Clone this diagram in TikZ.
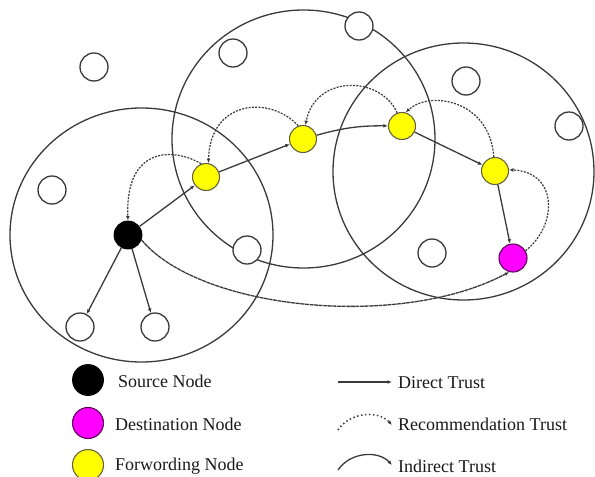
\documentclass[tikz,border=0pt]{standalone}
\usepackage{fontspec}
\setmainfont{Liberation Serif}
\usetikzlibrary{arrows.meta}
\definecolor{ln}{HTML}{3A3A3A}
\definecolor{yel}{HTML}{FFFF00}
\definecolor{mag}{HTML}{FF00FF}
\tikzset{
  ln/.style={draw=ln, line width=1.3pt},
  plain/.style={circle, draw=ln, line width=1.3pt, fill=white, minimum size=28pt, inner sep=0pt},
  srcnode/.style={circle, draw=black, line width=0.8pt, fill=black, minimum size=28pt, inner sep=0pt},
  fwd/.style={circle, draw=black!70!yellow, line width=1.1pt, fill=yel, minimum size=27pt, inner sep=0pt},
  dst/.style={circle, draw=black!65!mag, line width=1.1pt, fill=mag, minimum size=28pt, inner sep=0pt},
  tip/.style={-{Latex[length=4.5pt,width=3.8pt]}},
  direct/.style={ln, tip},
  recom/.style={draw=ln, line width=1.2pt, dash pattern=on 2pt off 1.3pt, tip},
  indir/.style={draw=ln, line width=1.3pt, dash pattern=on 4pt off 0.6pt, tip},
  lab/.style={anchor=west, text=black!90, font=\fontsize{18}{21}\selectfont, inner sep=0pt},
  bigc/.style={draw=ln, line width=1.3pt}
}
\begin{document}
\begin{tikzpicture}[x=1pt, y=-1pt]
\useasboundingbox (0,0) rectangle (595,477);
% big ranges
\draw[bigc] (141.5,235) ellipse [x radius=131.5pt, y radius=127pt];
\draw[bigc] (303.5,139) ellipse [x radius=131.5pt, y radius=129pt];
\draw[bigc] (463.5,171.5) ellipse [x radius=130.5pt, y radius=128.5pt];
% plain nodes
\node[plain] (p1) at (94,67) {};
\node[plain] (p2) at (233,53) {};
\node[plain] (p3) at (52,190) {};
\node[plain] (p4) at (359,26) {};
\node[plain] (p5) at (466,81) {};
\node[plain] (p6) at (569,126) {};
\node[plain] (p7) at (247,250) {};
\node[plain] (p8) at (80,327) {};
\node[plain] (p9) at (155,327) {};
\node[plain] (p10) at (432,253) {};
% main nodes
\node[srcnode] (src) at (128,235) {};
\node[fwd] (y1) at (206,177) {};
\node[fwd] (y2) at (303,139) {};
\node[fwd] (y3) at (402,126) {};
\node[fwd] (y4) at (495,171) {};
\node[dst] (d) at (513,258) {};
% direct trust
\draw[direct] (src) -- (y1);
\draw[direct] (y1) -- (y2);
\draw[direct] (y2) to[bend left=8] (y3);
\draw[direct] (y3) -- (y4);
\draw[direct] (y4) -- (d);
\draw[direct] (src) -- (p8);
\draw[direct] (src) -- (p9);
% recommendation trust
\draw[recom] (y1.110) .. controls (175,148) and (125,145) .. (src.90);
\draw[recom] (y2.110) .. controls (270,95) and (210,100) .. (y1.80);
\draw[recom] (y3.110) .. controls (380,75) and (315,75) .. (y2.80);
\draw[recom] (y4.95) .. controls (490,100) and (430,90) .. (y3.75);
\draw[recom] (d.30) .. controls (558,225) and (558,172) .. (y4.5);
% indirect trust
\draw[indir] (src.-20) .. controls (200,310) and (400,330) .. (d.-105);
% legend
\node[srcnode, minimum size=31pt] (ls) at (88,380) {};
\node[dst, minimum size=31pt] (ld) at (88,423) {};
\node[fwd, minimum size=31pt] (lf) at (88,465) {};
\node[lab] (tls) at (118,381) {Source Node};
\node[lab] (tld) at (115,424) {Destination Node};
\node[lab] (tlf) at (115,466) {Forwording Node};
\coordinate (a1) at (338,382);
\coordinate (a2) at (392,382);
\coordinate (b1) at (338,430);
\coordinate (b2) at (392,425);
\coordinate (c1) at (338,470);
\coordinate (c2) at (392,465);
\draw[direct] (a1) -- (a2);
\draw[draw=ln, line width=1.5pt, dash pattern=on 1.5pt off 2.5pt, tip] (b1) .. controls (350,412) and (378,410) .. (b2);
\draw[ln, tip] (c1) .. controls (350,452) and (378,450) .. (c2);
\node[lab] (tla) at (398,383) {Direct Trust};
\node[lab] (tlb) at (398,424) {Recommendation Trust};
\node[lab] (tlc) at (398,466) {Indirect Trust};
\end{tikzpicture}
\end{document}
